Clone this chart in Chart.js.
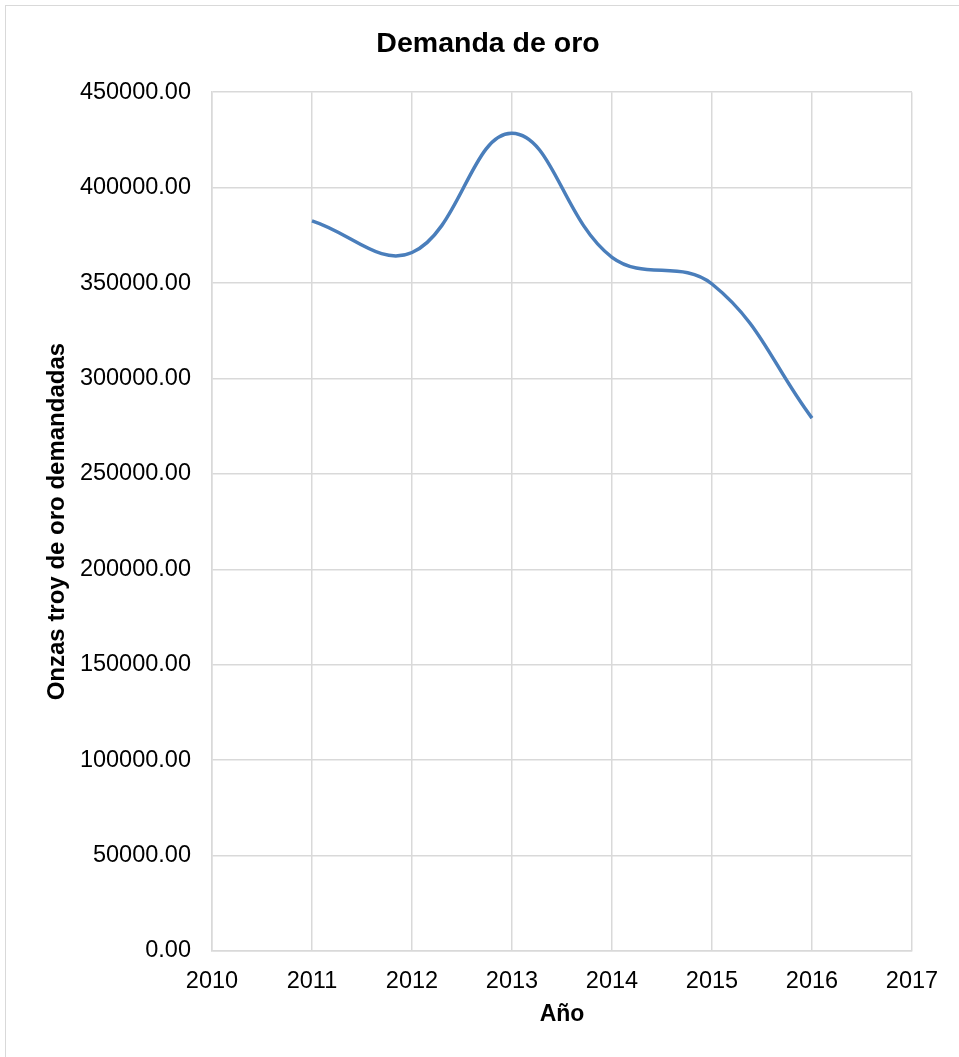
<!DOCTYPE html>
<html>

<head>
  <title>Demanda de oro</title>
  <script src="https://cdn.jsdelivr.net/npm/chart.js@4/dist/chart.umd.min.js"></script>
  <style>
    body { margin: 0; background: #fff; }
    #frame {
      position: absolute; left: 5px; top: 5px; width: 1000px; height: 1100px;
      border-left: 1px solid #d9d9d9; border-top: 1px solid #d9d9d9;
    }
    #box { position: absolute; left: 0; top: 0; width: 959px; height: 1057px; }
  </style>
</head>

<body>
  <div id="frame"></div>
  <div id="box"><canvas id="goldChart"></canvas></div>

  <script>
    // Demanda anual de oro (onzas troy)
    const years = [2011, 2012, 2013, 2014, 2015, 2016];
    const demand = [382600, 366000, 428500, 363500, 349500, 279200];

    const yTicks = { min: 0, max: 450000, step: 50000 };
    const xTicks = { min: 2010, max: 2017, step: 1 };

    const font = 'Liberation Sans, Arial, sans-serif';

    const ctx = document.getElementById('goldChart').getContext('2d');
    const goldChart = new Chart(ctx, {
      type: 'line',
      data: {
        datasets: [{
          label: 'Demanda de oro',
          data: years.map((y, i) => ({ x: y, y: demand[i] })),
          borderColor: '#4a7ebb',
          borderWidth: 3.5,
          pointRadius: 0,
          fill: false,
          tension: 0.4,
        }],
      },
      options: {
        responsive: true,
        maintainAspectRatio: false,
        animation: false,
        // left padding keeps the title centred over the whole frame
        layout: { padding: { left: 64, top: 10, right: 47, bottom: 0 } },
        plugins: {
          legend: { display: false },
          tooltip: { enabled: false },
          title: {
            display: true,
            text: 'Demanda de oro',
            color: '#000',
            font: { family: font, size: 28.5, weight: 'bold' },
            padding: { top: 17, bottom: 31 },
          },
        },
        scales: {
          x: {
            type: 'linear',
            min: xTicks.min,
            max: xTicks.max,
            grid: { color: '#d9d9d9', lineWidth: 1.5, drawTicks: false },
            border: { color: '#d9d9d9', width: 1.5 },
            ticks: {
              stepSize: xTicks.step,
              padding: 16,
              color: '#000',
              font: { family: font, size: 23.5 },
              callback: (v) => String(v),
            },
            title: {
              display: true,
              text: 'Año',
              color: '#000',
              font: { family: font, size: 23, weight: 'bold' },
              padding: { top: 4, bottom: 29 },
            },
            afterFit: (scale) => { scale.height = 106; },
          },
          y: {
            min: yTicks.min,
            max: yTicks.max,
            grid: { color: '#d9d9d9', lineWidth: 1.5, drawTicks: false },
            border: { color: '#d9d9d9', width: 1.5 },
            ticks: {
              stepSize: yTicks.step,
              padding: 21,
              color: '#000',
              font: { family: font, size: 23.5 },
              callback: (v) => v.toFixed(2),
            },
            title: {
              display: true,
              text: 'Onzas troy de oro demandadas',
              color: '#000',
              font: { family: font, size: 24, weight: 'bold' },
              // pulls the axis title back out into the left margin
              padding: { top: -21.5, bottom: 0 },
            },
            afterFit: (scale) => { scale.width = 148; },
          },
        },
      },
    });
  </script>
</body>

</html>
